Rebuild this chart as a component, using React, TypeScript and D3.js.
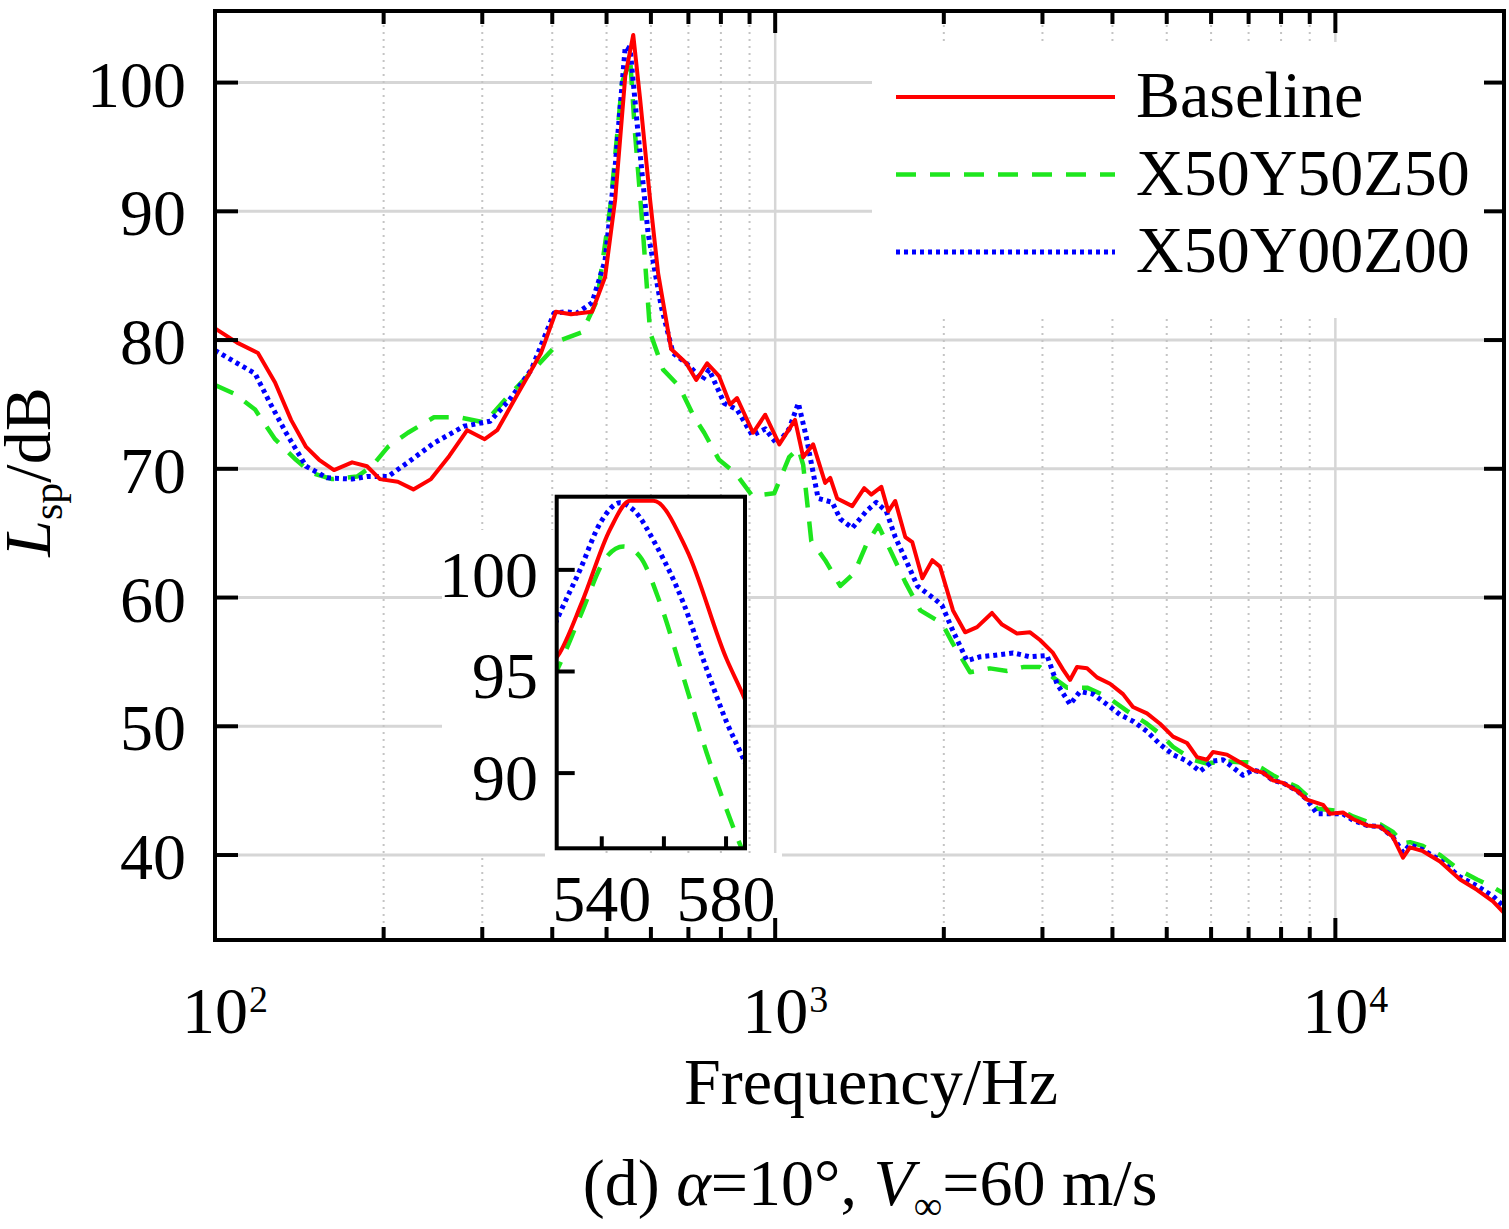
import { useEffect, useRef } from "react"
import * as d3 from "d3"

// main spectrum, [frequency (Hz), Lsp (dB)]
const baseline: [number, number][] = [
  [100, 80.9], [109.5, 79.8], [119.3, 79.0], [128, 76.7], [136.7, 73.8], [145.4, 71.7],
  [153.4, 70.7], [163.1, 69.9], [175.7, 70.5], [186.8, 70.2], [197, 69.2], [212, 69.0],
  [226, 68.4], [243, 69.2], [262, 71.0], [282, 73.0], [303, 72.3], [319, 73.0],
  [350, 76.1], [382, 79.0], [406, 82.2], [432, 82.0], [471, 82.2], [497, 84.9],
  [518, 90.9], [540, 100.5], [558, 103.7], [574, 98.7], [598, 90.9], [618, 85.2],
  [652, 79.3], [694, 78.2], [723, 76.9], [756, 78.2], [794, 77.2], [831, 75.0],
  [855, 75.5], [913, 72.8], [960, 74.2], [1017, 71.9], [1085, 73.8], [1122, 70.9],
  [1169, 71.9], [1228, 68.9], [1254, 69.3], [1290, 67.7], [1373, 67.1], [1442, 68.5],
  [1484, 68.0], [1547, 68.6], [1592, 66.7], [1638, 67.5], [1707, 64.7], [1757, 64.3],
  [1831, 61.5], [1908, 62.9], [1969, 62.4], [2077, 59.0], [2183, 57.3], [2293, 57.7],
  [2438, 58.8], [2541, 57.9], [2702, 57.2], [2851, 57.3], [2970, 56.7], [3133, 55.7],
  [3265, 54.4], [3360, 53.6], [3458, 54.6], [3603, 54.5], [3754, 53.8], [3960, 53.3],
  [4178, 52.5], [4352, 51.5], [4610, 51.0], [4864, 50.2], [5131, 49.2], [5435, 48.7],
  [5662, 47.6], [5900, 47.4], [6047, 48.0], [6405, 47.8], [6757, 47.2], [7128, 46.6],
  [7425, 46.4], [7737, 45.8], [8063, 45.6], [8541, 45.0], [8900, 44.3], [9505, 43.9],
  [9781, 43.2], [10318, 43.3], [10752, 42.8], [11389, 42.3], [12013, 42.2], [12672, 41.4],
  [13204, 39.8], [13590, 40.6], [14334, 40.3], [15376, 39.5], [16696, 38.1], [17898, 37.3],
  [19116, 36.4], [20000, 35.5],
]

const x50y50z50: [number, number][] = [
  [100, 76.5], [108.6, 75.8], [117.9, 74.6], [128, 72.3], [139.5, 70.7], [148.4, 69.7],
  [161.8, 69.2], [179.3, 69.4], [190.7, 70.2], [203.6, 71.7], [221, 72.8], [246, 74.0],
  [273, 74.0], [303, 73.6], [330, 75.4], [374, 77.9], [415, 80.0], [452, 80.6],
  [481, 83.1], [508, 90.4], [533, 100.0], [551, 101.8], [562, 96.1], [581, 88.3],
  [598, 80.6], [631, 77.7], [674, 76.4], [717, 74.0], [747, 72.8], [794, 70.7],
  [848, 69.7], [910, 67.9], [996, 68.1], [1059, 70.9], [1100, 71.6], [1122, 70.3],
  [1160, 64.4], [1228, 62.9], [1307, 60.9], [1384, 61.9], [1454, 64.1], [1528, 65.6],
  [1612, 63.5], [1707, 61.2], [1816, 59.0], [1985, 58.0], [2077, 56.4], [2228, 54.2],
  [2418, 54.5], [2594, 54.3], [2770, 54.6], [2970, 54.6], [3133, 53.8], [3319, 53.0],
  [3603, 53.0], [3912, 52.3], [4246, 51.2], [4610, 50.2], [4864, 49.4], [5131, 48.4],
  [5571, 47.4], [5900, 47.1], [6301, 47.3], [6757, 47.2], [7041, 47.2], [7425, 46.7],
  [7737, 46.2], [8063, 45.8], [8541, 45.3], [8900, 44.6], [9274, 43.6], [9781, 43.5],
  [10318, 43.4], [10752, 43.0], [11389, 42.6], [12013, 42.4], [12672, 41.8], [13204, 40.9],
  [13590, 41.0], [14334, 40.7], [15376, 40.0], [16696, 38.8], [17898, 38.1], [19116, 37.5],
  [20000, 37.0],
]

const x50y00z00: [number, number][] = [
  [100, 79.2], [109.5, 78.2], [117.9, 77.4], [125.4, 75.1], [133.9, 72.8], [145.4, 70.2],
  [158.5, 69.3], [175.7, 69.2], [186.8, 69.4], [203.6, 69.4], [221, 70.5], [246, 72.0],
  [278, 73.3], [310, 73.7], [336, 75.4], [367, 77.7], [403, 82.1], [423, 82.2],
  [443, 82.1], [471, 82.9], [497, 86.2], [518, 93.5], [540, 102.8], [551, 102.6],
  [569, 96.1], [593, 88.3], [626, 82.6], [657, 79.0], [702, 78.0], [741, 76.9],
  [762, 77.7], [811, 75.1], [855, 74.6], [910, 72.6], [960, 73.1], [1008, 71.9],
  [1059, 73.1], [1100, 75.1], [1136, 72.5], [1193, 67.7], [1264, 67.4], [1307, 66.1],
  [1373, 65.4], [1454, 66.7], [1515, 67.4], [1579, 66.7], [1638, 64.7], [1728, 62.5],
  [1794, 60.9], [1924, 59.9], [1985, 59.4], [2077, 57.4], [2200, 55.1], [2321, 55.4],
  [2448, 55.5], [2659, 55.7], [2851, 55.4], [3057, 55.5], [3185, 53.3], [3360, 51.7],
  [3501, 52.7], [3693, 52.5], [3912, 51.7], [4126, 50.9], [4352, 50.4], [4610, 49.6],
  [4864, 48.6], [5131, 47.8], [5435, 47.3], [5732, 46.5], [6047, 47.3], [6301, 47.4],
  [6565, 46.8], [6841, 46.2], [7128, 46.6], [7425, 46.4], [7737, 45.8], [8063, 45.6],
  [8541, 45.0], [8900, 44.3], [9274, 43.2], [9781, 43.2], [10318, 43.2], [10752, 42.7],
  [11389, 42.3], [12013, 42.2], [12672, 41.4], [13204, 40.2], [13590, 40.8], [14334, 40.4],
  [15376, 39.6], [16696, 38.3], [17898, 37.6], [19116, 36.8], [20000, 36.0],
]

// zoomed peak shown in the inset
const baselineZoom: [number, number][] = [
  [524, 95.4], [526.0, 95.8], [533.6, 98.4], [542.7, 102.0], [549.1, 103.4], [556.6, 103.4],
  [567.3, 101.0], [580.2, 95.6], [585.0, 94.0], [587, 93.3],
]
const x50y50z50Zoom: [number, number][] = [
  [524, 94.6], [526.0, 95.2], [533.0, 97.7], [541.6, 100.65], [547.0, 101.15], [552.3, 100.65],
  [558.7, 98.4], [566.2, 94.75], [573.8, 90.98], [580.2, 88.2], [585.0, 86.3], [587, 85.6],
]
const x50y00z00Zoom: [number, number][] = [
  [524, 97.0], [526.0, 97.7], [533.0, 100.0], [539.5, 102.3], [545.9, 103.3], [550.2, 102.95],
  [557.7, 101.15], [566.2, 98.4], [573.8, 95.1], [580.2, 92.5], [585.0, 90.9], [587, 90.2],
]

const seriesNames = ["Baseline", "X50Y50Z50", "X50Y00Z00"]
const seriesColors = ["#ff0000", "#1ee61e", "#0000ff"]
const seriesDash = ["none", "20,14", "4,4"]
const seriesWidth = [4, 4.5, 5]

const yTicks = [40, 50, 60, 70, 80, 90, 100]
const xDecades = [100, 1000, 10000]
const xDecadeExp = ["2", "3", "4"]
const xMinor = [200, 300, 400, 500, 600, 700, 800, 900, 2000, 3000, 4000, 5000, 6000, 7000, 8000, 9000]
const insetYTicks = [90, 95, 100]
const insetXTicks = [540, 560, 580]
const insetXLabels = [540, 580]

const FONT = "'Liberation Serif', 'Times New Roman', serif"

export default function App() {
  const svgRef = useRef<SVGSVGElement>(null)

  useEffect(() => {
    if (!svgRef.current) return
    const svg = d3.select(svgRef.current)
    svg.selectAll("*").remove()

    const left = 215, right = 1504, top = 11, bottom = 940

    const x = d3.scaleLog().domain([100, 20000]).range([left, right])
    const y = d3.scaleLinear().domain([33.4, 105.56]).range([bottom, top])

    svg.append("rect").attr("width", 1509).attr("height", 1229).attr("fill", "#fff")

    // grid
    const grid = svg.append("g")
    grid.selectAll(".hgrid").data(yTicks).enter().append("line")
      .attr("x1", left).attr("x2", right)
      .attr("y1", (d) => y(d)).attr("y2", (d) => y(d))
      .attr("stroke", "#d6d6d6").attr("stroke-width", 3)
    grid.selectAll(".vminor").data(xMinor).enter().append("line")
      .attr("x1", (d) => x(d)).attr("x2", (d) => x(d))
      .attr("y1", top).attr("y2", bottom)
      .attr("stroke", "#c4c4c4").attr("stroke-width", 2).attr("stroke-dasharray", "2,5")
    grid.selectAll(".vmajor").data(xDecades.slice(1)).enter().append("line")
      .attr("x1", (d) => x(d)).attr("x2", (d) => x(d))
      .attr("y1", top).attr("y2", bottom)
      .attr("stroke", "#d6d6d6").attr("stroke-width", 2.5)

    // curves
    svg.append("clipPath").attr("id", "plotClip").append("rect")
      .attr("x", left).attr("y", top).attr("width", right - left).attr("height", bottom - top)

    const line = d3.line<[number, number]>().x((d) => x(d[0])).y((d) => y(d[1]))
    const curves = svg.append("g").attr("clip-path", "url(#plotClip)")
    ;[x50y50z50, x50y00z00, baseline].forEach((data, k) => {
      const i = [1, 2, 0][k]
      curves.append("path").datum(data)
        .attr("fill", "none")
        .attr("stroke", seriesColors[i])
        .attr("stroke-width", seriesWidth[i])
        .attr("stroke-dasharray", seriesDash[i])
        .attr("stroke-linejoin", "round")
        .attr("d", line)
    })

    // legend
    svg.append("rect").attr("x", 872).attr("y", 42).attr("width", 628).attr("height", 276).attr("fill", "#fff")
    const legend = svg.append("g")
    seriesNames.forEach((name, i) => {
      const ly = 97 + i * 77.5
      legend.append("line")
        .attr("x1", 896).attr("x2", 1115).attr("y1", ly).attr("y2", ly)
        .attr("stroke", seriesColors[i]).attr("stroke-width", seriesWidth[i])
        .attr("stroke-dasharray", seriesDash[i])
      legend.append("text")
        .attr("x", 1136).attr("y", ly + 20)
        .style("font-family", FONT).style("font-size", "66px")
        .text(name)
    })

    // inset
    const iL = 556.7, iR = 745, iT = 496.7, iB = 848.3
    const xi = d3.scaleLinear().domain([525.5, 586.1]).range([iL, iR])
    const yi = d3.scaleLinear().domain([86.3, 103.6]).range([iB, iT])
    const inset = svg.append("g")
    inset.append("rect").attr("x", 442).attr("y", 530).attr("width", iL - 442).attr("height", 323).attr("fill", "#fff")
    inset.append("rect").attr("x", 545).attr("y", 853).attr("width", 237).attr("height", 82).attr("fill", "#fff")
    inset.append("rect").attr("x", iL).attr("y", iT).attr("width", iR - iL).attr("height", iB - iT).attr("fill", "#fff")

    svg.append("clipPath").attr("id", "insetClip").append("rect")
      .attr("x", iL).attr("y", iT).attr("width", iR - iL).attr("height", iB - iT)
    const lineI = d3.line<[number, number]>().x((d) => xi(d[0])).y((d) => yi(d[1])).curve(d3.curveMonotoneX)
    const insetCurves = inset.append("g").attr("clip-path", "url(#insetClip)")
    ;[x50y50z50Zoom, x50y00z00Zoom, baselineZoom].forEach((data, k) => {
      const i = [1, 2, 0][k]
      insetCurves.append("path").datum(data)
        .attr("fill", "none")
        .attr("stroke", seriesColors[i])
        .attr("stroke-width", seriesWidth[i])
        .attr("stroke-dasharray", seriesDash[i])
        .attr("d", lineI)
    })
    inset.append("rect").attr("x", iL).attr("y", iT).attr("width", iR - iL).attr("height", iB - iT)
      .attr("fill", "none").attr("stroke", "#000").attr("stroke-width", 4)
    inset.selectAll(".iyt").data(insetYTicks).enter().append("line")
      .attr("x1", iL).attr("x2", iL + 18).attr("y1", (d) => yi(d)).attr("y2", (d) => yi(d))
      .attr("stroke", "#000").attr("stroke-width", 4)
    inset.selectAll(".iyl").data(insetYTicks).enter().append("text")
      .attr("x", 538).attr("y", (d) => yi(d) + 27)
      .attr("text-anchor", "end")
      .style("font-family", FONT).style("font-size", "66px")
      .text((d) => d)
    inset.selectAll(".ixt").data(insetXTicks).enter().append("line")
      .attr("x1", (d) => xi(d)).attr("x2", (d) => xi(d)).attr("y1", iB).attr("y2", iB - 12)
      .attr("stroke", "#000").attr("stroke-width", 4)
    inset.selectAll(".ixl").data(insetXLabels).enter().append("text")
      .attr("x", (d) => xi(d)).attr("y", 921)
      .attr("text-anchor", "middle")
      .style("font-family", FONT).style("font-size", "66px")
      .text((d) => d)

    // frame and ticks
    const axes = svg.append("g").attr("stroke", "#000").attr("stroke-width", 4)
    axes.append("rect").attr("x", left).attr("y", top).attr("width", right - left).attr("height", bottom - top)
      .attr("fill", "none")
    yTicks.forEach((v) => {
      axes.append("line").attr("x1", left).attr("x2", left + 23).attr("y1", y(v)).attr("y2", y(v))
      axes.append("line").attr("x1", right).attr("x2", right - 20).attr("y1", y(v)).attr("y2", y(v))
    })
    xMinor.forEach((v) => {
      axes.append("line").attr("x1", x(v)).attr("x2", x(v)).attr("y1", bottom).attr("y2", bottom - 13)
      axes.append("line").attr("x1", x(v)).attr("x2", x(v)).attr("y1", top).attr("y2", top + 13)
    })
    xDecades.forEach((v) => {
      axes.append("line").attr("x1", x(v)).attr("x2", x(v)).attr("y1", bottom).attr("y2", bottom - 22)
      axes.append("line").attr("x1", x(v)).attr("x2", x(v)).attr("y1", top).attr("y2", top + 22)
    })

    // tick labels
    svg.selectAll(".ytl").data(yTicks).enter().append("text")
      .attr("x", 186).attr("y", (d) => y(d) + 24)
      .attr("text-anchor", "end")
      .style("font-family", FONT).style("font-size", "66px")
      .text((d) => d)
    xDecades.forEach((v, i) => {
      svg.append("text").attr("x", x(v)).attr("y", 1033).attr("text-anchor", "middle")
        .style("font-family", FONT).style("font-size", "66px").text("10")
      svg.append("text").attr("x", x(v) + 34).attr("y", 1012)
        .style("font-family", FONT).style("font-size", "38px").text(xDecadeExp[i])
    })

    // axis titles
    svg.append("text").attr("x", 871).attr("y", 1104).attr("text-anchor", "middle")
      .style("font-family", FONT).style("font-size", "66px").text("Frequency/Hz")

    const yl = svg.append("text")
      .attr("transform", "translate(50,472) rotate(-90)")
      .attr("text-anchor", "middle")
      .style("font-family", FONT).style("font-size", "66px")
    yl.append("tspan").style("font-style", "italic").text("L")
    yl.append("tspan").attr("dy", 12).style("font-size", "42px").text("sp")
    yl.append("tspan").attr("dy", -12).text("/dB")

    const cap = svg.append("text").attr("x", 870).attr("y", 1205).attr("text-anchor", "middle")
      .style("font-family", FONT).style("font-size", "66px")
    cap.append("tspan").text("(d) ")
    cap.append("tspan").style("font-style", "italic").text("α")
    cap.append("tspan").text("=10°, ")
    cap.append("tspan").style("font-style", "italic").text("V")
    cap.append("tspan").attr("dy", 14).style("font-size", "40px").text("∞")
    cap.append("tspan").attr("dy", -14).text("=60 m/s")
  }, [])

  return (
    <svg
      ref={svgRef}
      width={1509}
      height={1229}
      style={{ position: "absolute", left: 0, top: 0 }}
    ></svg>
  )
}
